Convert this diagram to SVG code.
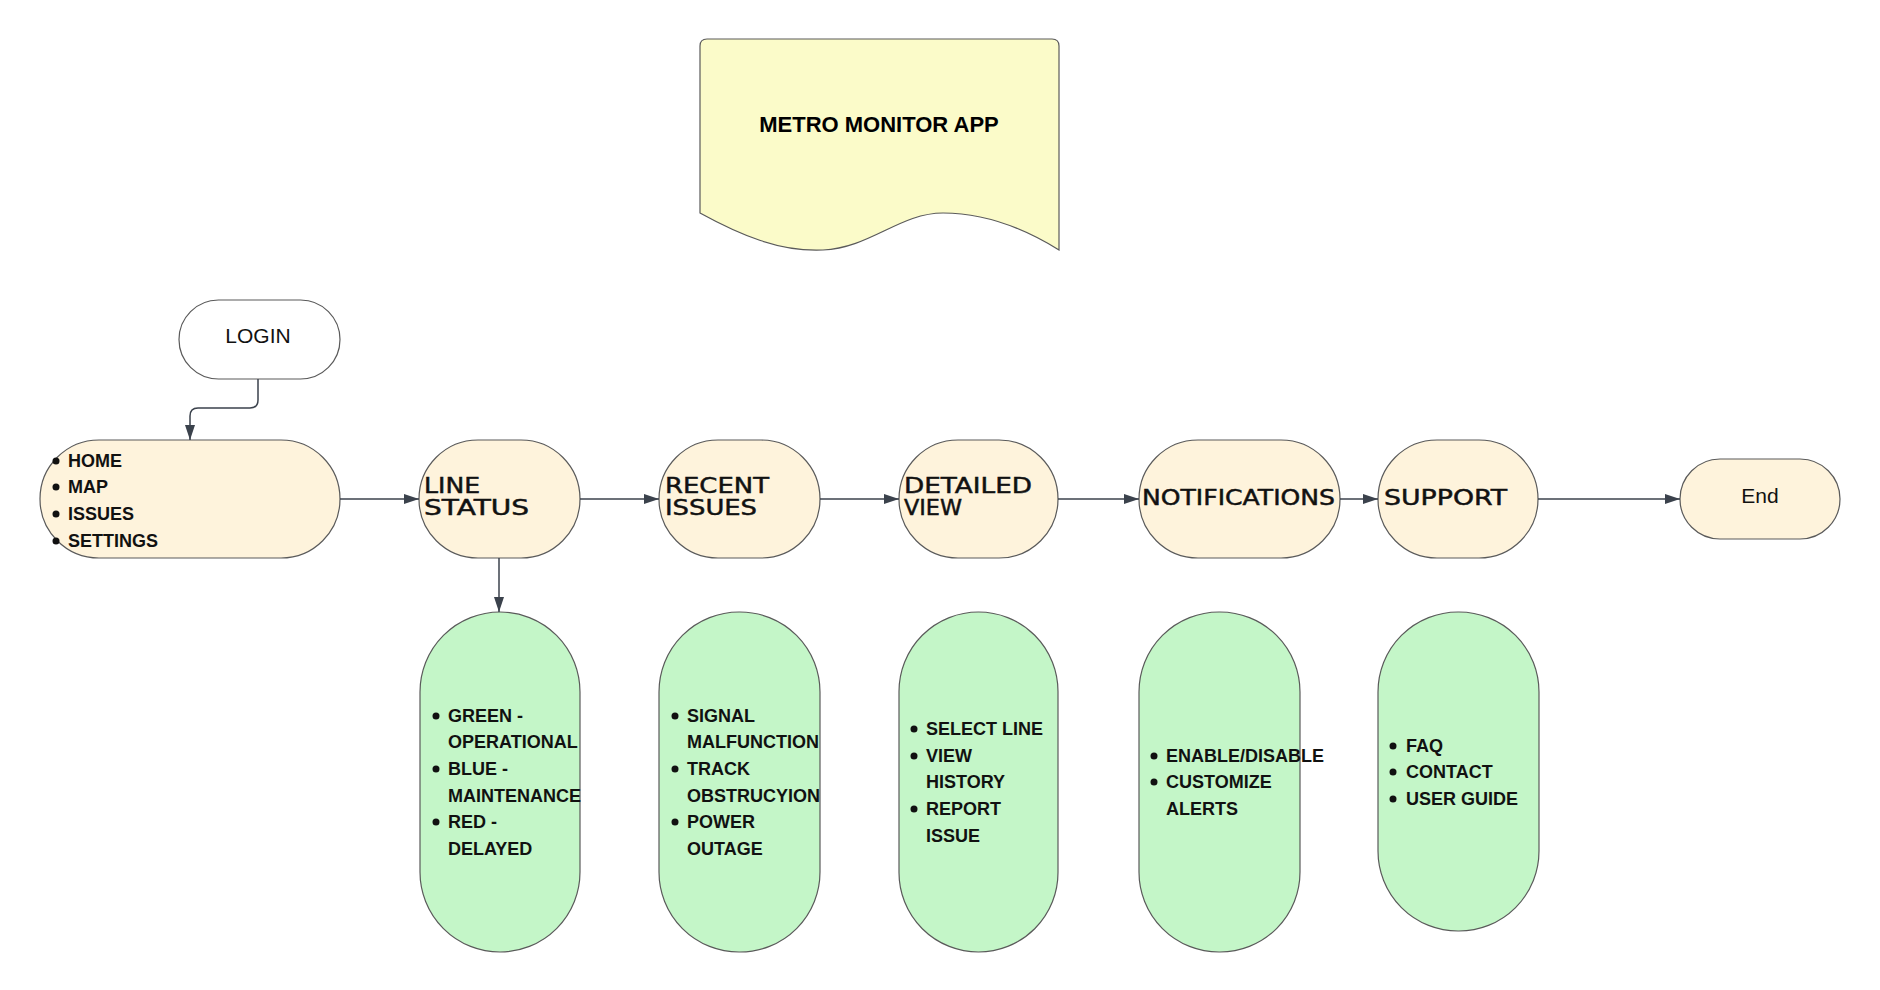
<svg xmlns="http://www.w3.org/2000/svg" width="1880" height="990" viewBox="0 0 1880 990">
<defs>
<marker id="arr" markerUnits="userSpaceOnUse" markerWidth="15" markerHeight="10" refX="15" refY="5" orient="auto">
<path d="M0,0 L15,5 L0,10 z" fill="#3b424c"/>
</marker>
<style>
.cream{fill:#fef3dc;stroke:#5a5a5a;stroke-width:1.2}
.green{fill:#c4f6c8;stroke:#5a5a5a;stroke-width:1.2}
.white{fill:#ffffff;stroke:#5a5a5a;stroke-width:1.2}
.doc{fill:#fbfbc9;stroke:#5a5a5a;stroke-width:1.2}
.conn{fill:none;stroke:#3b424c;stroke-width:1.5;marker-end:url(#arr)}
.hand{font-family:"Liberation Sans",Arial,sans-serif;font-weight:bold;font-size:18px;fill:#111}
.dot{fill:#111}
.sq{font-family:"DejaVu Sans",sans-serif;font-size:22px;fill:#111;stroke:#111;stroke-width:0.5}
.plain{font-family:"Liberation Sans",Arial,sans-serif;font-size:21px;fill:#111;text-anchor:middle}
</style>
</defs>
<rect width="1880" height="990" fill="#ffffff"/>

<g id="title">
<path class="doc" d="M700,213 L700,46 Q700,39 707,39 L1052,39 Q1059,39 1059,46 L1059,250 C1030,232 990,213 943,213 C900,213 870,248 823,250 C780,252 740,235 700,213 z"/>
<text x="879" y="132" style="font-family:'Liberation Sans',Arial,sans-serif;font-weight:bold;font-size:22px;fill:#000;text-anchor:middle">METRO MONITOR APP</text>
</g>

<g id="login">
<rect class="white" x="179" y="300" width="161" height="79" rx="39.5"/>
<text class="plain" x="258" y="343">LOGIN</text>
</g>

<g id="home">
<rect class="cream" x="40" y="440" width="300" height="118" rx="59"/>
<circle class="dot" cx="56" cy="461" r="3.5"/><text class="hand" x="68" y="467">HOME</text>
<circle class="dot" cx="56" cy="487" r="3.5"/><text class="hand" x="68" y="493">MAP</text>
<circle class="dot" cx="56" cy="514" r="3.5"/><text class="hand" x="68" y="520">ISSUES</text>
<circle class="dot" cx="56" cy="541" r="3.5"/><text class="hand" x="68" y="547">SETTINGS</text>
</g>

<g id="line-status">
<rect class="cream" x="419" y="440" width="161" height="118" rx="59"/>
<text class="sq" x="424" y="493" textLength="56" lengthAdjust="spacingAndGlyphs">LINE</text>
<text class="sq" x="424" y="515" textLength="105" lengthAdjust="spacingAndGlyphs">STATUS</text>
</g>

<g id="recent-issues">
<rect class="cream" x="659" y="440" width="161" height="118" rx="59"/>
<text class="sq" x="665" y="493" textLength="104" lengthAdjust="spacingAndGlyphs">RECENT</text>
<text class="sq" x="665" y="515" textLength="92" lengthAdjust="spacingAndGlyphs">ISSUES</text>
</g>

<g id="detailed-view">
<rect class="cream" x="899" y="440" width="159" height="118" rx="59"/>
<text class="sq" x="904" y="493" textLength="128" lengthAdjust="spacingAndGlyphs">DETAILED</text>
<text class="sq" x="904" y="515" textLength="58" lengthAdjust="spacingAndGlyphs">VIEW</text>
</g>

<g id="notifications">
<rect class="cream" x="1139" y="440" width="201" height="118" rx="59"/>
<text class="sq" x="1142" y="505" textLength="193" lengthAdjust="spacingAndGlyphs">NOTIFICATIONS</text>
</g>

<g id="support">
<rect class="cream" x="1378" y="440" width="160" height="118" rx="59"/>
<text class="sq" x="1384" y="505" textLength="123" lengthAdjust="spacingAndGlyphs">SUPPORT</text>
</g>

<g id="end">
<rect class="cream" x="1680" y="459" width="160" height="80" rx="40"/>
<text class="plain" x="1760" y="503">End</text>
</g>

<g id="line-status-details">
<rect class="green" x="420" y="612" width="160" height="340" rx="80"/>
<circle class="dot" cx="436" cy="716" r="3.5"/><text class="hand" x="448" y="722">GREEN -</text>
<text class="hand" x="448" y="748">OPERATIONAL</text>
<circle class="dot" cx="436" cy="769" r="3.5"/><text class="hand" x="448" y="775">BLUE -</text>
<text class="hand" x="448" y="802">MAINTENANCE</text>
<circle class="dot" cx="436" cy="822" r="3.5"/><text class="hand" x="448" y="828">RED -</text>
<text class="hand" x="448" y="855">DELAYED</text>
</g>

<g id="recent-issues-details">
<rect class="green" x="659" y="612" width="161" height="340" rx="80"/>
<circle class="dot" cx="675" cy="716" r="3.5"/><text class="hand" x="687" y="722">SIGNAL</text>
<text class="hand" x="687" y="748">MALFUNCTION</text>
<circle class="dot" cx="675" cy="769" r="3.5"/><text class="hand" x="687" y="775">TRACK</text>
<text class="hand" x="687" y="802">OBSTRUCYION</text>
<circle class="dot" cx="675" cy="822" r="3.5"/><text class="hand" x="687" y="828">POWER</text>
<text class="hand" x="687" y="855">OUTAGE</text>
</g>

<g id="detailed-view-details">
<rect class="green" x="899" y="612" width="159" height="340" rx="79.5"/>
<circle class="dot" cx="914" cy="729" r="3.5"/><text class="hand" x="926" y="735">SELECT LINE</text>
<circle class="dot" cx="914" cy="756" r="3.5"/><text class="hand" x="926" y="762">VIEW</text>
<text class="hand" x="926" y="788">HISTORY</text>
<circle class="dot" cx="914" cy="809" r="3.5"/><text class="hand" x="926" y="815">REPORT</text>
<text class="hand" x="926" y="842">ISSUE</text>
</g>

<g id="notifications-details">
<rect class="green" x="1139" y="612" width="161" height="340" rx="80"/>
<circle class="dot" cx="1154" cy="756" r="3.5"/><text class="hand" x="1166" y="762">ENABLE/DISABLE</text>
<circle class="dot" cx="1154" cy="782" r="3.5"/><text class="hand" x="1166" y="788">CUSTOMIZE</text>
<text class="hand" x="1166" y="815">ALERTS</text>
</g>

<g id="support-details">
<rect class="green" x="1378" y="612" width="161" height="319" rx="80"/>
<circle class="dot" cx="1393" cy="746" r="3.5"/><text class="hand" x="1406" y="752">FAQ</text>
<circle class="dot" cx="1393" cy="772" r="3.5"/><text class="hand" x="1406" y="778">CONTACT</text>
<circle class="dot" cx="1393" cy="799" r="3.5"/><text class="hand" x="1406" y="805">USER GUIDE</text>
</g>

<g id="connectors">
<path class="conn" d="M258,379 V400 Q258,408 250,408 H198 Q190,408 190,416 V440"/>
<path class="conn" d="M340,499 H419"/>
<path class="conn" d="M580,499 H659"/>
<path class="conn" d="M820,499 H899"/>
<path class="conn" d="M1058,499 H1139"/>
<path class="conn" d="M1340,499 H1378"/>
<path class="conn" d="M1538,499 H1680"/>
<path class="conn" d="M499,558 V612"/>
</g>
</svg>
